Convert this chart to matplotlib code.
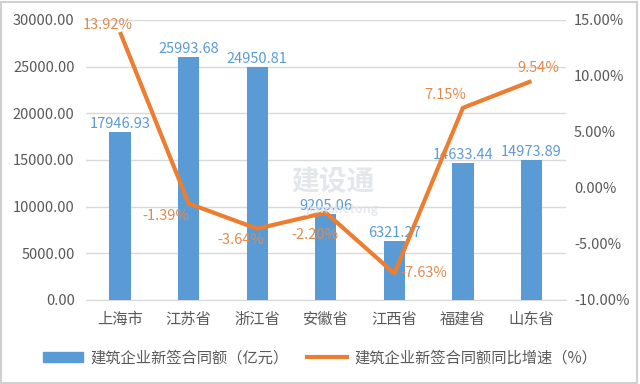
import numpy as np
import matplotlib
matplotlib.use("Agg")
import matplotlib.pyplot as plt
from matplotlib.patches import Rectangle
from matplotlib.lines import Line2D

plt.rcParams['font.family'] = ['Noto Sans CJK SC', 'DejaVu Sans']

#%%

provinces = ["上海市", "江苏省", "浙江省", "安徽省", "江西省", "福建省", "山东省"]
contract = [17946.93, 25993.68, 24950.81, 9205.06, 6321.27, 14633.44, 14973.89]
growth = [13.92, -1.39, -3.64, -2.20, -7.63, 7.15, 9.54]
growthLabels = ["13.92%", "-1.39%", "-3.64%", "-2.20%", "-7.63%", "7.15%", "9.54%"]

barName = "建筑企业新签合同额（亿元）"
lineName = "建筑企业新签合同额同比增速（%）"

blue = "#5B9BD5"
orange = "#ED7D31"
grey = "#595959"

#%%

fig = plt.figure(figsize=(6.4, 3.84), dpi=100)
ax = fig.add_axes([0.134, 0.219, 0.750, 0.729])
ax2 = ax.twinx()

x = np.arange(len(provinces))
ax.bar(x, contract, width=0.31, color=blue, zorder=3)
ax.set_xlim(-0.5, len(provinces) - 0.5)
ax.set_ylim(0, 30000)
ax.set_yticks(np.arange(0, 30001, 5000))
ax.set_yticklabels(["{0:.2f}".format(v) for v in np.arange(0, 30001, 5000)])
ax.set_xticks(x)
ax.set_xticklabels(provinces)
ax.grid(axis='y', color="#D9D9D9", lw=1, zorder=0)
ax.set_axisbelow(True)

for a in (ax, ax2):
    for s in a.spines.values():
        s.set_visible(False)
    a.tick_params(length=0, labelsize=10.5, colors=grey)
ax.spines['bottom'].set_visible(True)
ax.spines['bottom'].set_color("#D9D9D9")
ax.tick_params(axis='x', pad=8, labelsize=11)
ax.tick_params(axis='y', pad=8)

for xi, v in zip(x, contract):
    ax.annotate("{0:.2f}".format(v), (xi, v), xytext=(0, 6), textcoords="offset points",
                ha="center", va="center", color=blue, fontsize=10.5, zorder=4)

ax2.plot(x, growth, color=orange, lw=3, zorder=5, solid_capstyle="butt")
ax2.set_ylim(-10, 15)
ax2.set_yticks(np.arange(-10, 16, 5))
ax2.set_yticklabels(["{0:.2f}%".format(v) for v in np.arange(-10, 16, 5)])
ax2.tick_params(axis='y', pad=6)

# label offsets in points, as placed in the original
offsets = [(-9, 5, "center"), (-16.5, -9, "center"), (-12, -8, "center"), (-8, -16, "center"),
           (4.5, 0, "left"), (-12.5, 9.5, "center"), (5, 9.5, "center")]
for xi, v, lab, (dx, dy, ha) in zip(x, growth, growthLabels, offsets):
    ax2.annotate(lab, (xi, v), xytext=(dx, dy), textcoords="offset points",
                 ha=ha, va="center", color="#E08B4C", fontsize=10.5, zorder=2)

# watermark
fig.text(0.52, 0.525, "建设通", color="#D8DDE3", fontsize=20, fontweight="bold",
         ha="center", va="center", alpha=0.7)
fig.text(0.535, 0.455, "jianshetong", color="#DDE2E8", fontsize=9, fontweight="bold",
         ha="center", va="center", alpha=0.7)

handles = [Rectangle((0, 0), 1, 1, color=blue), Line2D([0], [0], color=orange, lw=3)]
fig.legend(handles, [barName, lineName], loc="center", bbox_to_anchor=(0.5, 0.068),
           ncol=2, frameon=False, fontsize=11, labelcolor=grey, handlelength=2.6,
           columnspacing=1.2, handletextpad=0.5)

fig.patches.append(Rectangle((0.002, 0.003), 0.994, 0.993, transform=fig.transFigure,
                             fill=False, edgecolor="#D0D0D0", lw=1.5))

plt.savefig("out.png", dpi=100)
